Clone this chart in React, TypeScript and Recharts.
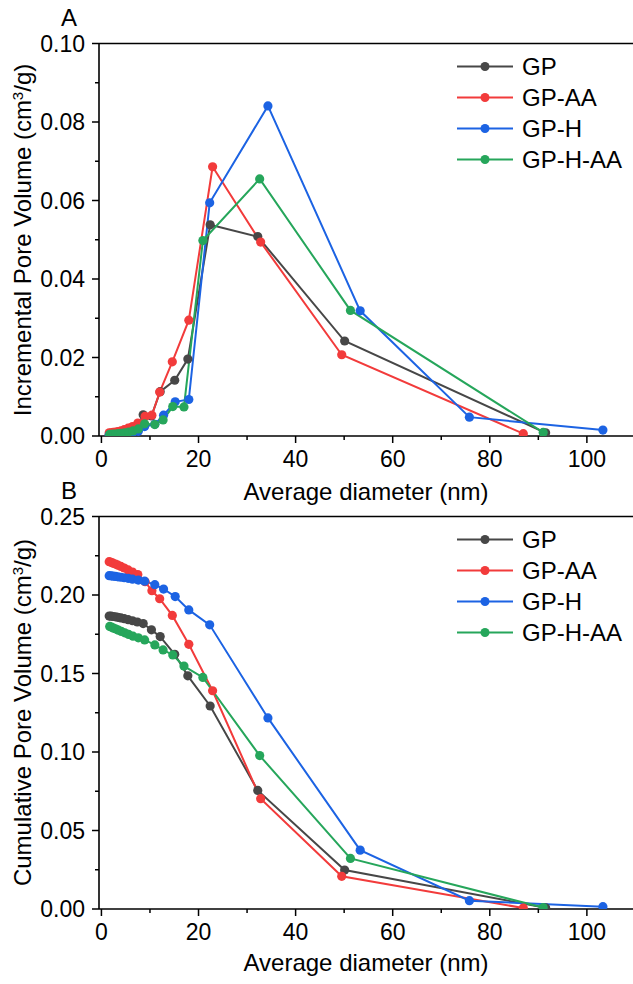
import React from "react";
import { LineChart, Line, XAxis, YAxis, Legend, ReferenceLine } from "recharts";

const FONT = '"Liberation Sans", Arial, Helvetica, sans-serif';
const AXIS = "#000";

// series colours
const GREY = "#474747";
const RED = "#F23B3B";
const BLUE = "#1C63E3";
const GREEN = "#26A65B";

const NAMES = ["GP", "GP-AA", "GP-H", "GP-H-AA"];

// average pore diameter (nm) per series
const GP_D = [1.6, 2.0, 2.4, 2.9, 3.4, 4.0, 4.7, 5.5, 6.4, 7.4, 8.6, 10.3, 12.1, 15.1, 17.8, 22.4, 32.2, 50.1, 91.5];
const AA_D = [1.6, 2.0, 2.4, 2.9, 3.4, 4.0, 4.7, 5.5, 6.4, 7.5, 9.0, 10.4, 12.0, 14.6, 18.0, 22.9, 32.8, 49.5, 86.9];
const H_D = [1.6, 2.0, 2.4, 2.9, 3.4, 4.0, 4.7, 5.5, 6.4, 7.6, 8.9, 11.0, 12.8, 15.2, 18.0, 22.3, 34.3, 53.3, 75.8, 103.3];
const HA_D = [1.7, 2.1, 2.5, 3.0, 3.5, 4.1, 4.8, 5.6, 6.5, 7.6, 8.9, 11.0, 12.7, 14.7, 17.0, 20.9, 32.6, 51.3, 91.0];

// incremental pore volume (cm3/g) - panel A
const GP_INC = [0.0003, 0.0003, 0.0004, 0.0005, 0.0006, 0.0008, 0.001, 0.0013, 0.0017, 0.0024, 0.0054, 0.0051, 0.0113, 0.0142, 0.0196, 0.0538, 0.0508, 0.0242, 0.0008];
const AA_INC = [0.0008, 0.0008, 0.0009, 0.001, 0.0011, 0.0013, 0.0016, 0.002, 0.0024, 0.0033, 0.005, 0.0053, 0.0112, 0.0189, 0.0295, 0.0686, 0.0494, 0.0207, 0.0006];
const H_INC = [0.0002, 0.0002, 0.0002, 0.0003, 0.0003, 0.0004, 0.0005, 0.0006, 0.0008, 0.0012, 0.0024, 0.003, 0.0053, 0.0087, 0.0093, 0.0594, 0.0841, 0.0319, 0.0048, 0.0015];
const HA_INC = [0.0004, 0.0004, 0.0005, 0.0005, 0.0006, 0.0007, 0.0008, 0.001, 0.0013, 0.0018, 0.0031, 0.0029, 0.0041, 0.0075, 0.0074, 0.0498, 0.0655, 0.032, 0.0009];

// cumulative pore volume (cm3/g) - panel B
const GP_CUM = [0.1866, 0.1865, 0.1863, 0.1861, 0.1858, 0.1854, 0.1849, 0.1843, 0.1836, 0.1828, 0.1818, 0.1778, 0.1735, 0.1622, 0.1485, 0.1293, 0.0755, 0.0248, 0.0008];
const AA_CUM = [0.2212, 0.2208, 0.2203, 0.2197, 0.219, 0.2182, 0.2172, 0.216, 0.2146, 0.213, 0.2085, 0.2027, 0.1976, 0.187, 0.1686, 0.139, 0.0703, 0.0208, 0.0006];
const H_CUM = [0.2123, 0.2122, 0.212, 0.2118, 0.2116, 0.2113, 0.211, 0.2106, 0.2101, 0.2095, 0.2088, 0.2066, 0.2038, 0.199, 0.1905, 0.181, 0.1217, 0.0375, 0.0053, 0.0015];
const HA_CUM = [0.18, 0.1795, 0.1789, 0.1783, 0.1776, 0.1768, 0.1759, 0.1749, 0.1738, 0.1727, 0.1714, 0.1682, 0.165, 0.1618, 0.1547, 0.1475, 0.0977, 0.0322, 0.0009];

const X_TICKS = [0, 10, 20, 30, 40, 50, 60, 70, 80, 90, 100];
const A_Y_TICKS = [0, 0.01, 0.02, 0.03, 0.04, 0.05, 0.06, 0.07, 0.08, 0.09, 0.1];
const B_Y_TICKS = [0, 0.025, 0.05, 0.075, 0.1, 0.125, 0.15, 0.175, 0.2, 0.225, 0.25];

type Row = { d: number; v: number };
type Series = { name: string; color: string; d: number[]; inc: number[]; cum: number[] };

const SERIES: Series[] = [
  { name: NAMES[0], color: GREY, d: GP_D, inc: GP_INC, cum: GP_CUM },
  { name: NAMES[1], color: RED, d: AA_D, inc: AA_INC, cum: AA_CUM },
  { name: NAMES[2], color: BLUE, d: H_D, inc: H_INC, cum: H_CUM },
  { name: NAMES[3], color: GREEN, d: HA_D, inc: HA_INC, cum: HA_CUM },
];

const rowsOf = (s: Series, key: "inc" | "cum"): Row[] => s.d.map((d, i) => ({ d, v: s[key][i] }));

const XTick = (props: any) => {
  const { x, y, payload } = props;
  const v = payload.value as number;
  const major = v % 20 === 0;
  return (
    <g>
      <line x1={x} x2={x} y1={y} y2={y + (major ? 7 : 4)} stroke={AXIS} strokeWidth={1.5} />
      {major ? (
        <text x={x} y={y + 31} textAnchor="middle" fontSize={23} fontFamily={FONT} fill="#000">
          {v}
        </text>
      ) : null}
    </g>
  );
};

const makeYTick = (isMajor: (v: number) => boolean) => (props: any) => {
  const { x, y, payload } = props;
  const v = payload.value as number;
  const major = isMajor(v);
  return (
    <g>
      <line x1={x - (major ? 7 : 4)} x2={x} y1={y} y2={y} stroke={AXIS} strokeWidth={1.5} />
      {major ? (
        <text x={x - 14} y={y} dy="0.36em" textAnchor="end" fontSize={23} fontFamily={FONT} fill="#000">
          {v.toFixed(2)}
        </text>
      ) : null}
    </g>
  );
};

const LegendBox = () => (
  <svg width={183} height={130} style={{ display: "block" }}>
    {SERIES.map((s, i) => {
      const cy = 16.5 + i * 31;
      return (
        <g key={s.name}>
          <line x1={7} x2={63} y1={cy} y2={cy} stroke={s.color} strokeWidth={2} />
          <circle cx={35} cy={cy} r={4.5} fill={s.color} />
          <text x={72} y={cy} dy="0.36em" fontSize={24} fontFamily={FONT} fill="#000">
            {s.name}
          </text>
        </g>
      );
    })}
  </svg>
);

type PanelProps = {
  top: number;
  valueKey: "inc" | "cum";
  yMax: number;
  yTicks: number[];
  isMajor: (v: number) => boolean;
};

const Panel: React.FC<PanelProps> = ({ top, valueKey, yMax, yTicks, isMajor }) => (
  <div style={{ position: "absolute", left: 0, top, width: 633, height: 510 }}>
    <LineChart width={633} height={510} margin={{ top: 43.5, right: 0, left: 0, bottom: 0 }}>
      <XAxis
        type="number"
        dataKey="d"
        domain={[-0.5, 109.5]}
        allowDataOverflow
        ticks={X_TICKS}
        interval={0}
        height={74}
        tickSize={0}
        tickMargin={0}
        tickLine={false}
        tick={<XTick />}
        axisLine={{ stroke: AXIS, strokeWidth: 1.6 }}
      />
      <YAxis
        type="number"
        dataKey="v"
        domain={[0, yMax]}
        allowDataOverflow
        ticks={yTicks}
        interval={0}
        width={99}
        tickSize={0}
        tickMargin={0}
        tickLine={false}
        tick={makeYTick(isMajor)}
        axisLine={{ stroke: AXIS, strokeWidth: 1.6 }}
      />
      <ReferenceLine y={yMax} stroke={AXIS} strokeWidth={1.6} />
      <Legend
        layout="vertical"
        align="center"
        verticalAlign="middle"
        wrapperStyle={{ position: "absolute", left: 450, top: 50, width: 183, height: 130 }}
        content={() => <LegendBox />}
      />
      {SERIES.map((s) => (
        <Line
          key={s.name}
          name={s.name}
          data={rowsOf(s, valueKey)}
          dataKey="v"
          type="linear"
          stroke={s.color}
          strokeWidth={2}
          dot={{ r: 4.6, fill: s.color, stroke: s.color, strokeWidth: 0 }}
          activeDot={false}
          isAnimationActive={false}
        />
      ))}
    </LineChart>
  </div>
);

const Titles = () => (
  <svg
    width={633}
    height={984}
    style={{ position: "absolute", left: 0, top: 0, pointerEvents: "none" }}
    fontFamily={FONT}
    fill="#000"
  >
    <text x={61} y={26} fontSize={24}>A</text>
    <text x={61} y={499} fontSize={24}>B</text>
    <text transform="translate(31 240) rotate(-90)" textAnchor="middle" fontSize={24}>
      Incremental Pore Volume (cm<tspan dy={-8} fontSize={15}>3</tspan>
      <tspan dy={8}>/g)</tspan>
    </text>
    <text transform="translate(31 712.5) rotate(-90)" textAnchor="middle" fontSize={24}>
      Cumulative Pore Volume (cm<tspan dy={-8} fontSize={15}>3</tspan>
      <tspan dy={8}>/g)</tspan>
    </text>
    <text x={366} y={500} textAnchor="middle" fontSize={24}>Average diameter (nm)</text>
    <text x={366} y={970.5} textAnchor="middle" fontSize={24}>Average diameter (nm)</text>
  </svg>
);

export default function App() {
  return (
    <div style={{ position: "absolute", left: 0, top: 0, width: 633, height: 984, background: "#fff", overflow: "hidden" }}>
      <Panel
        top={0}
        valueKey="inc"
        yMax={0.1}
        yTicks={A_Y_TICKS}
        isMajor={(v) => Math.round(v * 100) % 2 === 0}
      />
      <Panel
        top={473}
        valueKey="cum"
        yMax={0.25}
        yTicks={B_Y_TICKS}
        isMajor={(v) => Math.round(v * 1000) % 50 === 0}
      />
      <Titles />
    </div>
  );
}
